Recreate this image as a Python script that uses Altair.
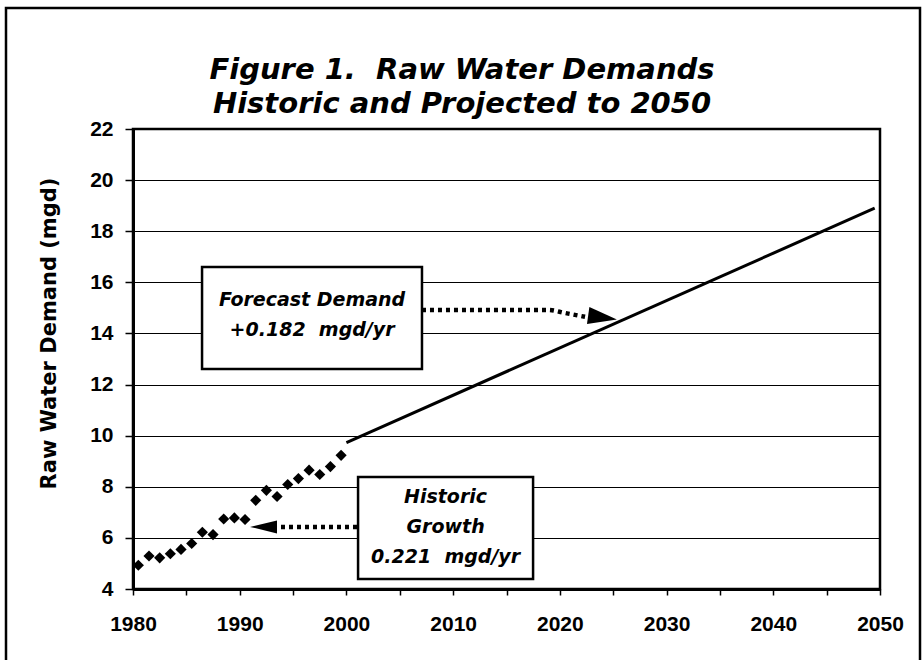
import altair as alt
import pandas as pd

# ---- data ----
hist_years = [1980.5, 1981.5, 1982.5, 1983.5, 1984.5, 1985.5, 1986.5, 1987.5, 1988.5, 1989.5,
              1990.5, 1991.5, 1992.5, 1993.5, 1994.5, 1995.5, 1996.5, 1997.5, 1998.5, 1999.5]
hist_demand = [4.93, 5.29, 5.22, 5.38, 5.55, 5.78, 6.22, 6.13, 6.74, 6.78,
               6.72, 7.47, 7.86, 7.62, 8.09, 8.32, 8.65, 8.48, 8.79, 9.23]

forecast_years = [2000, 2049.5]
forecast_demand = [9.73, 18.9]

x_ticks = [1980, 1985, 1990, 1995, 2000, 2005, 2010, 2015, 2020, 2025, 2030, 2035, 2040, 2045, 2050]
y_ticks = [4, 6, 8, 10, 12, 14, 16, 18, 20, 22]

NB = "\u00a0"
title_lines = ["Figure 1." + NB + " Raw Water Demands", "Historic and Projected to 2050"]
y_title = "Raw Water Demand (mgd)"

# annotation boxes (in data units)
box_x1 = [1986.47, 2001.09]
box_x2 = [2007.08, 2017.49]
box_y1 = [16.60, 8.38]
box_y2 = [12.61, 4.39]

note_text = ["Forecast Demand", "+0.182" + NB + " mgd/yr", "Historic", "Growth", "0.221" + NB + " mgd/yr"]
note_x = [1996.78, 1996.78, 2009.29, 2009.29, 2009.29]
note_y = [15.31, 14.13, 7.60, 6.43, 5.25]

# dotted arrow shafts
arrow1_x = [2007.08, 2018.89, 2020.48, 2022.36]
arrow1_y = [14.92, 14.92, 14.80, 14.65]
arrow2_x = [2000.99, 1993.49]
arrow2_y = [6.43, 6.43]

# arrow heads
head_x = [2024.0, 1992.23]
head_y = [14.62, 6.43]
head_dir = ["right", "left"]

FONT = "Liberation Sans"
WIDE = "DejaVu Sans"
W, H = 747, 460

hist = pd.DataFrame({"year": hist_years, "demand": hist_demand})
fc = pd.DataFrame({"year": forecast_years, "demand": forecast_demand})
boxes = pd.DataFrame({"x1": box_x1, "x2": box_x2, "y1": box_y1, "y2": box_y2})
notes = pd.DataFrame({"year": note_x, "demand": note_y, "text": note_text})
a1 = pd.DataFrame({"year": arrow1_x, "demand": arrow1_y, "o": list(range(len(arrow1_x)))})
a2 = pd.DataFrame({"year": arrow2_x, "demand": arrow2_y, "o": list(range(len(arrow2_x)))})
heads = pd.DataFrame({"year": head_x, "demand": head_y, "dir": head_dir})

xscale = alt.Scale(domain=[1980, 2050], nice=False, zero=False)
yscale = alt.Scale(domain=[4, 22], nice=False, zero=False)

X = alt.X("year:Q", scale=xscale, title=None,
          axis=alt.Axis(values=x_ticks, grid=False,
                        labelExpr="datum.value % 10 == 0 ? '' + datum.value : ''",
                        tickSize=6, labelPadding=18, labelFlush=False))
Y = alt.Y("demand:Q", scale=yscale,
          axis=alt.Axis(values=y_ticks, grid=True, gridColor="black", gridWidth=1, gridOpacity=1,
                        tickSize=8, labelPadding=12, title=y_title,
                        titleX=-84, titleY=204, titleAngle=270, titleAlign="center",
                        titleBaseline="middle", titleFontSize=21, titleFont=WIDE,
                        titleFontWeight="bold", titleColor="black"))

base_axes = alt.Chart(hist).mark_point(filled=True, shape="diamond", size=125, color="black",
                                       opacity=1).encode(x=X, y=Y)

forecast = alt.Chart(fc).mark_line(color="black", strokeWidth=3).encode(
    x=alt.X("year:Q", scale=xscale), y=alt.Y("demand:Q", scale=yscale))

box_marks = alt.Chart(boxes).mark_rect(fill="white", stroke="black", strokeWidth=2.5).encode(
    x=alt.X("x1:Q", scale=xscale), x2="x2:Q",
    y=alt.Y("y1:Q", scale=yscale), y2="y2:Q")

note_marks = alt.Chart(notes).mark_text(font=WIDE, fontSize=19, fontStyle="italic",
                                        fontWeight="bold", color="black",
                                        align="center", baseline="middle").encode(
    x=alt.X("year:Q", scale=xscale), y=alt.Y("demand:Q", scale=yscale), text="text:N")

dash = dict(color="black", strokeWidth=4.5, strokeDash=[4, 4])
arrow1 = alt.Chart(a1).mark_line(interpolate="monotone", **dash).encode(
    x=alt.X("year:Q", scale=xscale), y=alt.Y("demand:Q", scale=yscale), order="o:O")
arrow2 = alt.Chart(a2).mark_line(**dash).encode(
    x=alt.X("year:Q", scale=xscale), y=alt.Y("demand:Q", scale=yscale), order="o:O")

head_r = alt.Chart(heads).transform_filter(alt.datum.dir == "right").mark_point(
    shape="M1,0L-1,-0.59L-1,0.59Z", filled=True, color="black", opacity=1, size=841, angle=8
).encode(x=alt.X("year:Q", scale=xscale), y=alt.Y("demand:Q", scale=yscale))
head_l = alt.Chart(heads).transform_filter(alt.datum.dir == "left").mark_point(
    shape="M-1,0L1,-0.48L1,0.48Z", filled=True, color="black", opacity=1, size=729
).encode(x=alt.X("year:Q", scale=xscale), y=alt.Y("demand:Q", scale=yscale))

one = pd.DataFrame({"k": [0]})
title_style = dict(font=WIDE, fontSize=29, fontStyle="italic", fontWeight="bold",
                   color="black", align="center", baseline="middle")
title1 = alt.Chart(one).mark_text(**title_style).encode(
    x=alt.value(329), y=alt.value(-59), text=alt.value(title_lines[0]))
title2 = alt.Chart(one).mark_text(**title_style).encode(
    x=alt.value(329), y=alt.value(-25), text=alt.value(title_lines[1]))
frame = alt.Chart(one).mark_rect(fill=None, stroke="black", strokeWidth=2.5).encode(
    x=alt.value(-127), x2=alt.value(787), y=alt.value(-121), y2=alt.value(545))

chart = alt.layer(
    base_axes, forecast, box_marks, note_marks, arrow1, arrow2, head_r, head_l,
    title1, title2, frame
).properties(
    width=W, height=H,
    autosize=alt.AutoSizeParams(type="none"),
    padding={"left": 133, "top": 129, "right": 42, "bottom": 71},
    background="white",
).configure_view(
    stroke="black", strokeWidth=2.5
).configure_axis(
    domainColor="black", domainWidth=3, tickColor="black", tickWidth=1.5,
    labelFont=FONT, labelFontWeight="bold", labelFontSize=21, labelColor="black",
)

chart.save("out.html", embed_options={"renderer": "svg", "actions": False})
